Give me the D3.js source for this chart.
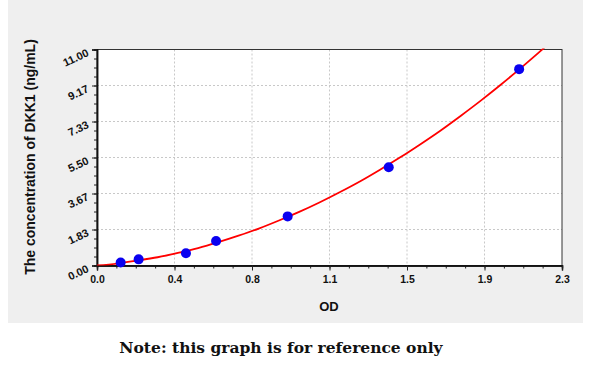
<!DOCTYPE html>
<html><head><meta charset="utf-8">
<script src="https://cdn.jsdelivr.net/npm/d3@7"></script>
<style>body{margin:0;background:#fff}svg{display:block}</style>
</head><body>
<svg id="c" width="600" height="365"></svg>
<script>
// data
const odValues = [0.117, 0.206, 0.44, 0.589, 0.943, 1.443, 2.088];
const concValues = [0.156, 0.312, 0.625, 1.25, 2.5, 5.0, 10.0];
const curveOD = [0, 0.1, 0.2, 0.3, 0.4, 0.5, 0.6, 0.7, 0.8, 0.9, 1.0, 1.1, 1.2, 1.3, 1.4, 1.5, 1.6, 1.7, 1.8, 1.9, 2.0, 2.1, 2.2, 2.25];
const curveConc = [0, 0.10, 0.25, 0.42, 0.64, 0.89, 1.19, 1.52, 1.88, 2.29, 2.73, 3.21, 3.73, 4.28, 4.88, 5.51, 6.18, 6.88, 7.63, 8.41, 9.23, 10.09, 10.98, 11.45];
const xTickLabels = ["0.0", "0.4", "0.8", "1.1", "1.5", "1.9", "2.3"];
const yTickLabels = ["0.00", "1.83", "3.67", "5.50", "7.33", "9.17", "11.00"];
const xMax = 2.3, yMax = 11;

const svg = d3.select("#c");
const L = 97, R = 562, T = 49.5, B = 265.5;
const x = d3.scaleLinear().domain([0, xMax]).range([L, R]);
const y = d3.scaleLinear().domain([0, yMax]).range([B, T]);

svg.append("rect").attr("x", 8).attr("y", 0).attr("width", 575).attr("height", 323).attr("fill", "#efefef");
svg.append("rect").attr("x", L).attr("y", T).attr("width", R - L).attr("height", B - T).attr("fill", "#fff");

const xMajor = xTickLabels.map((d, i) => i * xMax / 6);
const yMajor = yTickLabels.map((d, i) => i * yMax / 6);
const xMinor = d3.range(0, 25).map(i => i * xMax / 24);
const yMinor = d3.range(0, 25).map(i => i * yMax / 24);

// grid
svg.append("g").selectAll("line").data(xMajor.slice(1, -1)).join("line")
  .attr("x1", d => x(d)).attr("x2", d => x(d)).attr("y1", T).attr("y2", B)
  .attr("stroke", "#c8c8c8").attr("stroke-dasharray", "2,2");
svg.append("g").selectAll("line").data(yMajor.slice(1, -1)).join("line")
  .attr("y1", d => y(d)).attr("y2", d => y(d)).attr("x1", L).attr("x2", R)
  .attr("stroke", "#c8c8c8").attr("stroke-dasharray", "2,2");

// frame
svg.append("rect").attr("x", L).attr("y", T).attr("width", R - L).attr("height", B - T)
  .attr("fill", "none").attr("stroke", "#333").attr("stroke-width", 1);

// axes
const xAxisMinor = d3.axisBottom(x).tickValues(xMinor).tickSize(3).tickFormat("");
const xAxis = d3.axisBottom(x).tickValues(xMajor).tickSize(5).tickFormat((d, i) => xTickLabels[i]);
const gxm = svg.append("g").attr("transform", `translate(0,${B})`).call(xAxisMinor);
const gx = svg.append("g").attr("transform", `translate(0,${B})`).call(xAxis);
[gx, gxm].forEach(g => { g.select(".domain").attr("stroke", "#111").attr("stroke-width", 1.5); g.selectAll(".tick line").attr("stroke", "#222"); });
gx.selectAll("text").attr("font-family", "Liberation Sans, Arial, sans-serif").attr("font-weight", "bold")
  .attr("font-size", 10.5).attr("fill", "#111").attr("dy", "0.95em");

const yAxisMinor = d3.axisLeft(y).tickValues(yMinor).tickSize(3).tickFormat("");
const yAxis = d3.axisLeft(y).tickValues(yMajor).tickSize(5).tickFormat((d, i) => yTickLabels[i]);
const gym = svg.append("g").attr("transform", `translate(${L},0)`).call(yAxisMinor);
const gy = svg.append("g").attr("transform", `translate(${L},0)`).call(yAxis);
[gy, gym].forEach(g => { g.select(".domain").attr("stroke", "#111").attr("stroke-width", 1.5); g.selectAll(".tick line").attr("stroke", "#222"); });
gy.selectAll("text").attr("font-family", "Liberation Sans, Arial, sans-serif").attr("font-weight", "bold")
  .attr("font-size", 11).attr("fill", "#111")
  .attr("x", -10).attr("dy", "0.55em").attr("transform", "rotate(-25,-10,0)");

// curve
svg.append("clipPath").attr("id", "clip").append("rect").attr("x", L).attr("y", T - 1).attr("width", R - L).attr("height", B - T + 1);
const line = d3.line().x(d => x(d[0])).y(d => y(d[1])).curve(d3.curveMonotoneX);
svg.append("path").datum(curveOD.map((d, i) => [d, curveConc[i]]))
  .attr("d", line).attr("fill", "none").attr("stroke", "#ff0000").attr("stroke-width", 1.8)
  .attr("clip-path", "url(#clip)");

// points
svg.append("g").selectAll("circle").data(odValues.map((d, i) => [d, concValues[i]])).join("circle")
  .attr("cx", d => x(d[0])).attr("cy", d => y(d[1])).attr("r", 5).attr("fill", "#0a00f0");

// titles
svg.append("text").attr("transform", "translate(35,157) rotate(-90)").attr("text-anchor", "middle")
  .attr("font-family", "Liberation Sans, Arial, sans-serif").attr("font-weight", "bold").attr("font-size", 14)
  .attr("fill", "#111").text("The concentration of DKK1 (ng/mL)");
svg.append("text").attr("x", 329).attr("y", 311).attr("text-anchor", "middle")
  .attr("font-family", "Liberation Sans, Arial, sans-serif").attr("font-weight", "bold").attr("font-size", 13)
  .attr("fill", "#111").text("OD");
svg.append("text").attr("x", 281).attr("y", 353).attr("text-anchor", "middle")
  .attr("font-family", "DejaVu Serif, Liberation Serif, serif").attr("font-weight", "bold").attr("font-size", 15.5)
  .attr("fill", "#111").text("Note: this graph is for reference only");
</script>
</body></html>
